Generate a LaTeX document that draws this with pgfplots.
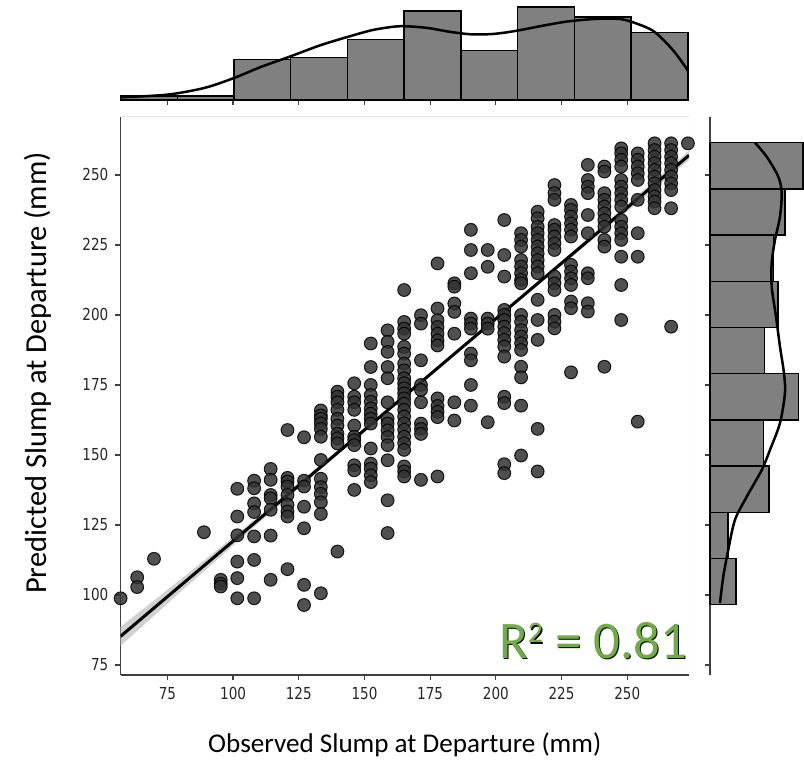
\documentclass[border=0pt]{standalone}
\usepackage{pgfplots}
\pgfplotsset{compat=1.18}
\usepackage{fontspec}
\setmainfont{Carlito}
\newfontfamily\tickfont{DejaVu Sans}
\definecolor{rgreen}{HTML}{70AD47}
\definecolor{histgray}{HTML}{808080}
\definecolor{spine}{HTML}{404040}
\pgfplotsset{
  tlab/.style={font=\tickfont\fontsize{6.8}{8}\selectfont, text=black!85},
}
\begin{document}
\begin{tikzpicture}
\path (0bp,0bp) rectangle (402bp,-378.5bp);
% ---------------- main scatter axis
\begin{axis}[
  at={(60.25bp,-337.5bp)}, anchor=south west,
  scale only axis, width=284.25bp, height=279bp,
  xmin=57.15, xmax=273.5, ymin=71.4, ymax=270.7,
  axis lines*=left, axis line style={-, spine, line width=0.6bp},
  xtick={75,100,...,250}, ytick={75,100,...,250},
  tick align=outside, major tick length=2.6bp,
  tick style={spine, line width=0.6bp},
  xticklabel={\scalebox{1}[1.22]{\pgfmathprintnumber[assume math mode=true]{\tick}}},
  yticklabel={\scalebox{1}[1.22]{\pgfmathprintnumber[assume math mode=true]{\tick}}},
  xticklabel style={tlab},
  yticklabel style={tlab},
  xlabel={Observed Slump at Departure (mm)},
  ylabel={Predicted Slump at Departure (mm)},
  xlabel style={at={(axis description cs:0.5,-0.125)}, anchor=center, font=\fontsize{13.6}{16}\selectfont},
  ylabel style={at={(axis description cs:-0.145,0.541)}, anchor=center, font=\fontsize{15.3}{18}\selectfont},
]
\draw[black!10, line width=0.5bp] (rel axis cs:0,1) -- (rel axis cs:1,1) -- (rel axis cs:1,0);
% confidence band
\addplot[draw=none, fill=black!18] coordinates {
 (57.15,88.6) (80,105.5) (110,128.3) (140,151.8) (170,175.4) (200,199.2) (230,223.3) (273.5,258.7)
 (273.5,255.3) (230,221.5) (200,198.0) (170,174.2) (140,150.2) (110,125.9) (80,101.1) (57.15,81.8)} -- cycle;
% scatter
\addplot[only marks, mark=*, mark size=3.2bp,
  mark options={fill=black!80, draw=black, line width=0.5bp, opacity=0.86}] coordinates {
(57.2,98.8)
(63.5,106.3)(63.5,102.8)
(69.9,112.9)
(88.9,122.4)
(95.3,105.4)(95.3,104)(95.3,103)
(101.6,137.9)(101.6,128)(101.6,121.3)(101.6,111.9)(101.6,106)(101.6,98.8)
(108,140.8)(108,138.1)(108,132.7)(108,129.6)(108,120.9)(108,112.5)(108,98.8)
(114.3,145)(114.3,141.1)(114.3,135.7)(114.3,134.5)(114.3,130.4)(114.3,121.2)(114.3,105.4)
(120.7,158.9)(120.7,141.8)(120.7,140.5)(120.7,138.7)(120.7,135.7)(120.7,132.2)(120.7,129.8)(120.7,128)(120.7,109.2)
(127,156.3)(127,140.8)(127,138.7)(127,131.5)(127,123.8)(127,103.6)(127,96.4)
(133.4,165.9)(133.4,164.1)(133.4,162.9)(133.4,161.2)(133.4,159.3)(133.4,156.5)(133.4,148.2)(133.4,141.5)(133.4,138.5)(133.4,136.1)(133.4,133.1)(133.4,128.9)(133.4,100.6)
(139.7,172.6)(139.7,170.8)(139.7,168.8)(139.7,166.1)(139.7,162.9)(139.7,160.5)(139.7,157.6)(139.7,155.9)(139.7,154.1)(139.7,115.5)
(146.1,175.6)(146.1,170.8)(146.1,168.8)(146.1,166.1)(146.1,160.5)(146.1,156.5)(146.1,155.3)(146.1,153.5)(146.1,146.3)(146.1,144.5)(146.1,137.5)
(152.4,189.8)(152.4,181.4)(152.4,175)(152.4,171.4)(152.4,169)(152.4,166.6)(152.4,164.7)(152.4,162.9)(152.4,161.2)(152.4,152.3)(152.4,146.9)(152.4,145.1)(152.4,142.7)(152.4,140.3)
(158.8,194.5)(158.8,190.4)(158.8,186.8)(158.8,181.4)(158.8,177.4)(158.8,168.8)(158.8,162.9)(158.8,161.2)(158.8,158.8)(158.8,156.4)(158.8,153.5)(158.8,148.1)(158.8,133.8)(158.8,122.1)
(165.1,208.9)(165.1,197.5)(165.1,195.1)(165.1,193.3)(165.1,188.6)(165.1,186.2)(165.1,182.6)(165.1,180.2)(165.1,177.4)(165.1,175.6)(165.1,173.8)(165.1,172)(165.1,170.2)(165.1,168.3)(165.1,166.1)(165.1,163.7)(165.1,161.3)(165.1,159)(165.1,156.5)(165.1,154.2)(165.1,151.8)(165.1,145.9)(165.1,144.1)(165.1,142.3)
(171.5,199.9)(171.5,196.9)(171.5,183.8)(171.5,175)(171.5,173.2)(171.5,168.8)(171.5,161.2)(171.5,159.3)(171.5,157.5)(171.5,141.1)
(177.8,218.4)(177.8,202.3)(177.8,198.1)(177.8,195.7)(177.8,193.3)(177.8,190.9)(177.8,189.1)(177.8,170.2)(177.8,167.5)(177.8,165.4)(177.8,163.5)(177.8,142.3)
(184.2,211.3)(184.2,210.1)(184.2,204.1)(184.2,201.1)(184.2,193.3)(184.2,168.8)(184.2,162.3)
(190.5,230.4)(190.5,223.2)(190.5,214.9)(190.5,198.7)(190.5,196.9)(190.5,195.1)(190.5,186.2)(190.5,183.8)(190.5,175)(190.5,167.6)
(196.9,223.2)(196.9,217.2)(196.9,198.7)(196.9,196.9)(196.9,195.1)(196.9,161.7)
(203.2,233.9)(203.2,221.4)(203.2,213.7)(203.2,201.8)(203.2,200)(203.2,198.2)(203.2,195.8)(203.2,193.5)(203.2,191.1)(203.2,188.7)(203.2,185.1)(203.2,170.8)(203.2,168.5)(203.2,146.7)(203.2,143.5)
(209.6,229.2)(209.6,226.8)(209.6,224.4)(209.6,219.6)(209.6,217.3)(209.6,214.9)(209.6,212.5)(209.6,211.3)(209.6,200)(209.6,197.6)(209.6,194.6)(209.6,192.3)(209.6,189.9)(209.6,187.5)(209.6,181.5)(209.6,177.7)(209.6,167.6)(209.6,149.8)
(215.9,236.9)(215.9,234.5)(215.9,231.5)(215.9,229.2)(215.9,226.8)(215.9,224.4)(215.9,222)(215.9,219.6)(215.9,217.3)(215.9,214.9)(215.9,205.4)(215.9,198.2)(215.9,191.1)(215.9,159.3)(215.9,144.1)
(222.3,246.4)(222.3,243.5)(222.3,241.1)(222.3,232.1)(222.3,230.4)(222.3,228)(222.3,225.6)(222.3,223.2)(222.3,213.7)(222.3,211.3)(222.3,208.9)(222.3,200)(222.3,197.6)(222.3,195.2)
(228.6,239.3)(228.6,237.5)(228.6,235.1)(228.6,232.7)(228.6,230.4)(228.6,228)(228.6,217.9)(228.6,215.5)(228.6,213.1)(228.6,210.7)(228.6,204.8)(228.6,202.4)(228.6,179.5)
(235,253.6)(235,248.2)(235,245.8)(235,243.5)(235,235.7)(235,229.2)(235,214.9)(235,213.1)(235,204.2)(235,201.2)
(241.3,253)(241.3,251.2)(241.3,243.5)(241.3,241.1)(241.3,238.7)(241.3,236.3)(241.3,233.9)(241.3,231.5)(241.3,226.8)(241.3,224.4)(241.3,181.5)
(247.7,259.5)(247.7,257.7)(247.7,255.4)(247.7,253)(247.7,248.2)(247.7,245.8)(247.7,243.5)(247.7,241.1)(247.7,238.7)(247.7,233.9)(247.7,231.5)(247.7,229.2)(247.7,226.8)(247.7,220.8)(247.7,210.7)(247.7,198.2)
(254,257.7)(254,255.4)(254,253)(254,250.6)(254,248.2)(254,241.1)(254,229.2)(254,220.8)(254,161.9)
(260.4,261.3)(260.4,258.9)(260.4,256.5)(260.4,254.2)(260.4,251.8)(260.4,249.4)(260.4,247)(260.4,244.6)(260.4,242.3)(260.4,240.5)(260.4,238.1)
(266.7,261.3)(266.7,258.9)(266.7,256.5)(266.7,254.2)(266.7,251.8)(266.7,249.4)(266.7,247)(266.7,244.6)(266.7,238.1)(266.7,195.8)
(273.1,261.3)
};
% regression line
\addplot[black, line width=1.5bp] coordinates {(57.15,85.2) (273.5,257.0)};
% R^2 annotation
\node[anchor=base east, text=black, font=\fontsize{26.5}{30}\selectfont, inner sep=0pt, xshift=0.6bp, yshift=-0.6bp]
  at (rel axis cs:0.997,0.03) {R\raisebox{7.7bp}{\fontsize{15}{15}\selectfont 2} = 0.81};
\node[anchor=base east, text=rgreen, font=\fontsize{26.5}{30}\selectfont, inner sep=0pt]
  at (rel axis cs:0.997,0.03) {R\raisebox{7.7bp}{\fontsize{15}{15}\selectfont 2} = 0.81};
\end{axis}
% ---------------- top marginal histogram
\begin{axis}[
  at={(60.25bp,-50bp)}, anchor=south west,
  scale only axis, width=284.25bp, height=50bp,
  xmin=57.15, xmax=273.5, ymin=0, ymax=98.9,
  axis x line*=bottom, axis y line=none,
  axis line style={-, spine, line width=0.6bp},
  xtick={75,100,...,250}, xticklabels={}, ytick=\empty,
  tick align=outside, major tick length=2.6bp,
  tick style={spine, line width=0.6bp},
  clip=false,
]
\addplot[ybar interval, fill=histgray, draw=black, line width=0.7bp] coordinates {
 (57.15,4) (78.74,4) (100.33,40) (121.92,42) (143.51,60) (165.10,88) (186.69,49) (208.28,92) (229.87,82) (251.46,67) (273.05,67)};
\addplot[black, line width=1.25bp, smooth] coordinates {
 (57.2,2.7) (75.0,5.3) (89.2,12) (100.6,22) (110.6,32.7) (122.0,43.3) (133.4,54.3) (144.8,63.3) (153.3,69.3)
 (161.9,72.7) (167.6,72.7) (174.7,71) (181.8,67.7) (190.4,65) (198.9,65.3) (207.5,68.3) (217.5,73.3)
 (227.4,77.7) (238.8,80.3) (247.4,80) (253.1,76) (260.2,67.7) (267.4,49.3) (273.05,29.3)};
\end{axis}
% ---------------- right marginal histogram
\begin{axis}[
  at={(355bp,-337.5bp)}, anchor=south west,
  scale only axis, width=47bp, height=279bp,
  xmin=0, xmax=82.9, ymin=71.4, ymax=270.7,
  axis y line*=left, axis x line=none,
  axis line style={-, spine, line width=0.6bp},
  ytick={75,100,...,250}, yticklabels={}, xtick=\empty,
  tick align=outside, major tick length=2.6bp,
  tick style={spine, line width=0.6bp},
  clip=false,
]
\addplot[xbar interval, fill=histgray, draw=black, line width=0.7bp] coordinates {
 (23,96.5) (16,113) (52,129.5) (47,146) (78,162.5) (48,179) (60,195.5) (56,212) (66,228.5) (82,245) (82,261.5)};
\addplot[black, line width=1.25bp, smooth] coordinates {
 (8.8,97.1) (11.7,106.5) (16.1,116.1) (22.0,126.8) (32.4,135.1) (45.6,144.6) (52.9,151.8) (61.7,161.4)
 (66.1,172.1) (65.2,179.3) (61.7,188.7) (58.2,199.4) (54.4,210.1) (54.4,218.6) (57.3,226.8) (61.7,235.1)
 (63.2,243.6) (60.2,249.4) (50.0,256.5) (39.7,261.5)};
\end{axis}
\end{tikzpicture}
\end{document}
